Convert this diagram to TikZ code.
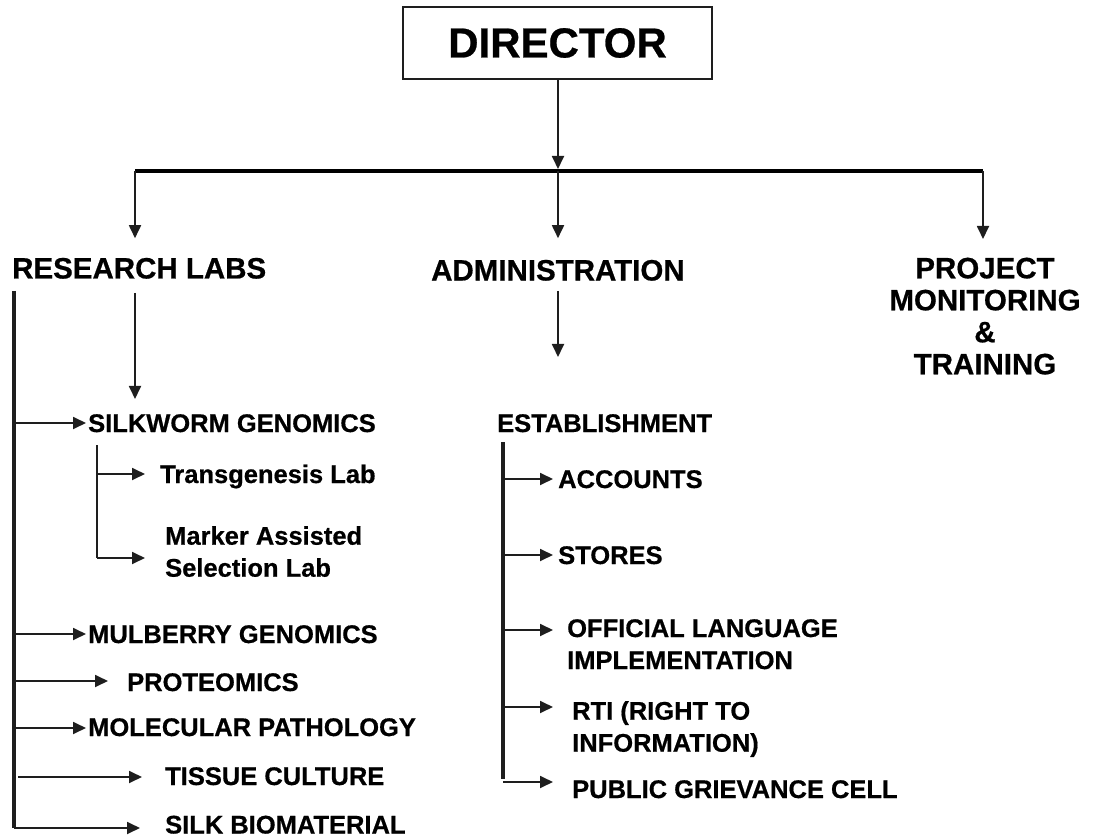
\documentclass[tikz,border=0pt]{standalone}
\usepackage{fontspec}
\setmainfont{Liberation Sans}[BoldFeatures={FakeBold=0.6}]
\usetikzlibrary{arrows.meta}
\definecolor{ink}{HTML}{1E1E1E}
\begin{document}
\begin{tikzpicture}[x=1pt,y=-1pt,
  txt/.style={inner sep=0pt, font=\fontsize{25.5}{32}\selectfont\bfseries, align=left, anchor=base west},
  txtm/.style={txt, anchor=north west},
  hdr/.style={inner sep=0pt, font=\fontsize{29.5}{32}\selectfont\bfseries, anchor=base west},
  conn/.style={draw=ink, line width=1.8pt, -{Triangle[length=13pt,width=12pt]}},
  spine/.style={draw=ink, line width=3.5pt},
  branch/.style={draw=ink, line width=1.8pt},
  bus/.style={draw=black, line width=4.5pt},
  topbox/.style={draw=ink, line width=2pt, minimum width=309pt, minimum height=72pt,
    inner sep=0pt, font=\fontsize{42}{46}\selectfont\bfseries}
]
\useasboundingbox (0,0) rectangle (1093,837);

% top level
\node[topbox] (dir) at (557.5,43) {DIRECTOR};
\coordinate (busL) at (135,171);
\coordinate (busM) at (558,171);
\coordinate (busR) at (983,171);

\node[hdr] (res) at (12,278.5) {RESEARCH LABS};
\node[hdr] (adm) at (431,280.5) {ADMINISTRATION};
\node[inner sep=0pt, font=\fontsize{29.5}{32}\selectfont\bfseries, align=center, anchor=north]
  (proj) at (985,257.5) {PROJECT\\MONITORING\\\&\\TRAINING};

\draw[conn, shorten >=2pt] (dir.south -| busM) -- (busM);
\draw[bus] (busL) -- (busR);
\draw[conn, shorten >=19.5pt] (busL) -- (busL |- res.north);
\draw[conn, shorten >=21.5pt] (busM) -- (busM |- adm.north);
\draw[conn, shorten >=18.5pt] (busR) -- (busR |- proj.north);

% research labs
\node[txt] (silk) at (88,432) {SILKWORM GENOMICS};
\node[txt] (trans) at (160,483) {Transgenesis Lab};
\node[txtm] (mark) at (165,526) {Marker Assisted\\Selection Lab};
\node[txt] (mul) at (88,643) {MULBERRY GENOMICS};
\node[txt] (prot) at (127,691) {PROTEOMICS};
\node[txt] (mol) at (88,736) {MOLECULAR PATHOLOGY};
\node[txt] (tis) at (165,785) {TISSUE CULTURE};
\node[txt] (bio) at (165,833.5) {SILK BIOMATERIAL};

\draw[conn, shorten <=14pt, shorten >=15pt] (busL |- res.south) -- (busL |- silk.north);

\coordinate (rtop) at (14,291);
\coordinate (rbot) at (14,828);
\draw[spine] (rtop) -- (rbot);
\coordinate (r1) at (14,423);
\coordinate (r2) at (14,634);
\coordinate (r3) at (14,681);
\coordinate (r4) at (14,728);
\coordinate (r5) at (18,777);
\draw[conn, shorten >=2pt] (r1) -- (r1 -| silk.west);
\draw[conn, shorten >=2pt] (r2) -- (r2 -| mul.west);
\draw[conn, shorten >=19pt] (r3) -- (r3 -| prot.west);
\draw[conn, shorten >=2pt] (r4) -- (r4 -| mol.west);
\draw[conn, shorten >=23pt] (r5) -- (r5 -| tis.west);
\draw[conn, shorten >=25pt] (rbot) -- (rbot -| bio.west);

\coordinate (stop) at (97,445);
\coordinate (s1) at (97,474);
\coordinate (s2) at (97,558);
\draw[branch] (stop) -- (s2);
\draw[conn, shorten >=15pt] (s1) -- (s1 -| trans.west);
\draw[conn, shorten >=20pt] (s2) -- (s2 -| mark.west);

% administration
\node[txt] (est) at (497,432) {ESTABLISHMENT};
\node[txt] (acc) at (558,488) {ACCOUNTS};
\node[txt] (sto) at (558,564) {STORES};
\node[txtm] (off) at (567,619) {OFFICIAL LANGUAGE\\IMPLEMENTATION};
\node[txtm] (rti) at (572,701) {RTI (RIGHT TO\\INFORMATION)};
\node[txt] (pub) at (572,798) {PUBLIC GRIEVANCE CELL};

\draw[conn, shorten <=10pt, shorten >=57pt] (busM |- adm.south) -- (busM |- est.north);

\coordinate (etop) at (503,442);
\coordinate (ebot) at (503,779);
\draw[spine] (etop) -- (ebot);
\coordinate (e1) at (503,479);
\coordinate (e2) at (503,555);
\coordinate (e3) at (503,630);
\coordinate (e4) at (503,707);
\coordinate (e5) at (503,782);
\draw[conn, shorten >=5pt] (e1) -- (e1 -| acc.west);
\draw[conn, shorten >=5pt] (e2) -- (e2 -| sto.west);
\draw[conn, shorten >=14pt] (e3) -- (e3 -| off.west);
\draw[conn, shorten >=19pt] (e4) -- (e4 -| rti.west);
\draw[conn, shorten >=19pt] (e5) -- (e5 -| pub.west);
\end{tikzpicture}
\end{document}
